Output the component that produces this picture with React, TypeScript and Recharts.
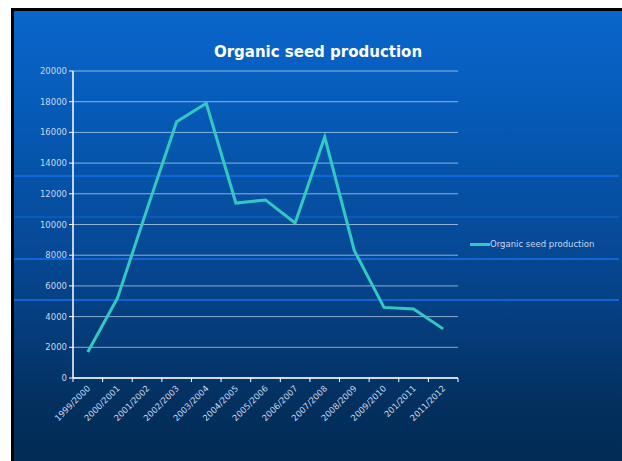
import React from "react";
import { LineChart, Line, XAxis, YAxis, CartesianGrid } from "recharts";

const seasons = [
  "1999/2000", "2000/2001", "2001/2002", "2002/2003", "2003/2004", "2004/2005",
  "2005/2006", "2006/2007", "2007/2008", "2008/2009", "2009/2010", "201/2011", "2011/2012",
];
const production = [1700, 5200, 11000, 16700, 17900, 11400, 11600, 10100, 15700, 8300, 4600, 4500, 3200];
const yTicks = [0, 2000, 4000, 6000, 8000, 10000, 12000, 14000, 16000, 18000, 20000];
const seriesName = "Organic seed production";
const title = "Organic seed production";

const data = seasons.map((s, i) => ({ season: s, value: production[i] }));

const FONT = "'DejaVu Sans', Verdana, sans-serif";
const TEXT = "#c9d7ec";
const LINE = "#33c9c0";

const XTick = (props: any) => {
  const { x, y, payload, index } = props;
  const off = payload.offset || 0;
  const last = index === seasons.length - 1;
  return (
    <g>
      <line x1={x - off} x2={x - off} y1={y - 8} y2={y - 4} stroke="#ffffff" strokeWidth={1} />
      {last && <line x1={x + off} x2={x + off} y1={y - 8} y2={y - 4} stroke="#ffffff" strokeWidth={1} />}
      <text
        x={x + 3}
        y={y + 3}
        textAnchor="end"
        fill={TEXT}
        fontSize={8.5}
        fontFamily={FONT}
        transform={`rotate(-45 ${x + 3} ${y + 3})`}
      >
        {payload.value}
      </text>
    </g>
  );
};

export default function App() {
  return (
    <div style={{ position: "absolute", left: 0, top: 0, width: 622, height: 461, background: "#ffffff", overflow: "hidden" }}>
      <div
        style={{
          position: "absolute",
          left: 11,
          top: 8,
          width: 608,
          height: 460,
          borderLeft: "3px solid #000",
          borderTop: "3px solid #000",
          borderRight: "3px solid #000",
          background: "linear-gradient(180deg, #0a66cc 0%, #0559b4 25%, #064a98 50%, #053c7a 70%, #03305f 85%, #022a54 100%)",
        }}
      />
      {[175, 216, 258, 299].map((t, i) => (
        <div
          key={i}
          style={{
            position: "absolute",
            left: 14,
            top: t,
            width: 605,
            height: 2,
            background: i === 1 ? "rgba(20,110,230,0.4)" : "rgba(20,110,230,0.8)",
          }}
        />
      ))}
      <div
        style={{
          position: "absolute",
          left: 0,
          top: 43,
          width: 636,
          textAlign: "center",
          fontFamily: FONT,
          fontWeight: "bold",
          fontSize: 15,
          color: "#ffffff",
        }}
      >
        {title}
      </div>
      <div
        style={{
          position: "absolute",
          left: 470,
          top: 239,
          display: "flex",
          alignItems: "center",
          fontFamily: FONT,
          fontSize: 8.5,
          color: TEXT,
          whiteSpace: "nowrap",
        }}
      >
        <div style={{ width: 20, height: 3, background: LINE }} />
        <span>{seriesName}</span>
      </div>
      <div style={{ position: "absolute", left: 0, top: 0 }}>
        <LineChart width={622} height={461} data={data} margin={{ top: 71, right: 164, bottom: 23, left: 33 }}>
          <CartesianGrid vertical={false} stroke="rgba(220,230,245,0.65)" strokeWidth={1} />
          <XAxis
            dataKey="season"
            scale="band"
            interval={0}
            height={60}
            axisLine={{ stroke: "#ffffff", strokeWidth: 1.5 }}
            tickLine={false}
            tick={<XTick />}
          />
          <YAxis
            domain={[0, 20000]}
            ticks={yTicks}
            width={40}
            axisLine={{ stroke: "#ffffff", strokeWidth: 1.5 }}
            tickLine={{ stroke: "#ffffff" }}
            tickSize={4}
            tick={{ fill: TEXT, fontSize: 8.5, fontFamily: FONT }}
          />
          <Line
            type="linear"
            dataKey="value"
            name={seriesName}
            stroke={LINE}
            strokeWidth={3}
            dot={false}
            activeDot={false}
            isAnimationActive={false}
          />
        </LineChart>
      </div>
    </div>
  );
}
